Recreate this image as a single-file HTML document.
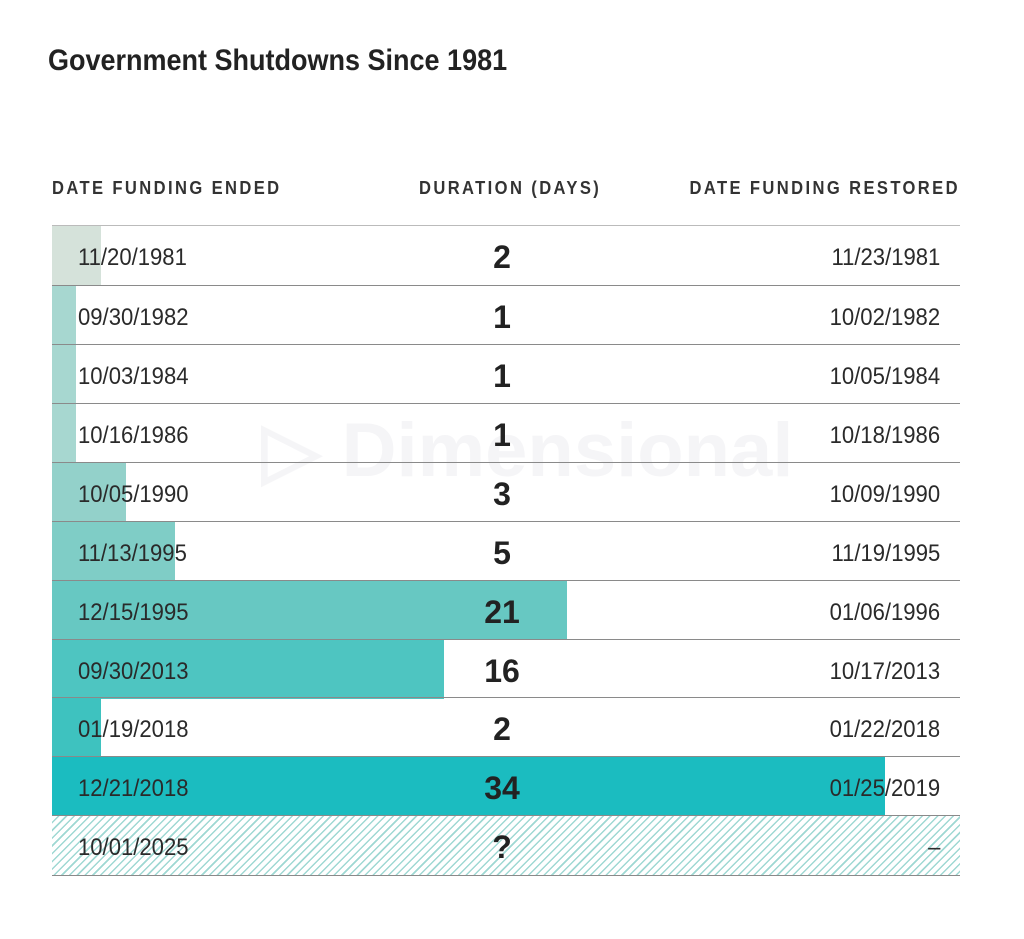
<!DOCTYPE html>
<html><head><meta charset="utf-8"><style>
body{margin:0;background:#fff;width:1024px;height:939px;position:relative;overflow:hidden;font-family:"Liberation Sans",sans-serif;color:#222}
.t{position:absolute;white-space:nowrap}
.title{left:48px;top:44px;font-size:30px;font-weight:bold;transform:scaleX(0.9);transform-origin:left;}
.h{top:178px;font-size:18px;font-weight:bold;letter-spacing:2.6px;color:#333;transform:scaleX(0.92)}
.row{position:absolute;left:52px;width:908px;height:59px;border-top:1px solid #8a8a8a}
.bar{position:absolute;left:0;top:0;height:59px}
.d{position:absolute;left:26px;top:18px;font-size:24px;color:#2a2a2a;transform:scaleX(0.92);transform-origin:left}
.n{position:absolute;left:450px;width:0;top:13px;font-size:32px;font-weight:bold;display:flex;justify-content:center}
.r{position:absolute;right:20px;top:18px;font-size:24px;color:#2a2a2a;transform:scaleX(0.92);transform-origin:right}
</style></head><body>
<div class="t title">Government Shutdowns Since 1981</div>
<div class="t h" style="left:52px;transform-origin:left">DATE FUNDING ENDED</div>
<div class="t h" style="left:419px;transform-origin:left">DURATION (DAYS)</div>
<div class="t h" style="right:64px;transform-origin:right">DATE FUNDING RESTORED</div>
<div class="t" style="left:262px;top:405px;font-size:76px;font-weight:bold;color:#f5f5f7">▷ Dimensional</div>

<div class="row" style="top:225px;border-top-color:#bbb"><div class="bar" style="width:49px;background:#d5e2da"></div><div class="d">11/20/1981</div><div class="n"><span>2</span></div><div class="r">11/23/1981</div></div>
<div class="row" style="top:285px"><div class="bar" style="width:24px;background:#a7d7d0"></div><div class="d">09/30/1982</div><div class="n"><span>1</span></div><div class="r">10/02/1982</div></div>
<div class="row" style="top:344px"><div class="bar" style="width:24px;background:#a7d7d0"></div><div class="d">10/03/1984</div><div class="n"><span>1</span></div><div class="r">10/05/1984</div></div>
<div class="row" style="top:403px"><div class="bar" style="width:24px;background:#a7d7d0"></div><div class="d">10/16/1986</div><div class="n"><span>1</span></div><div class="r">10/18/1986</div></div>
<div class="row" style="top:462px"><div class="bar" style="width:74px;background:#93d1ca"></div><div class="d">10/05/1990</div><div class="n"><span>3</span></div><div class="r">10/09/1990</div></div>
<div class="row" style="top:521px"><div class="bar" style="width:123px;background:#7fcdc6"></div><div class="d">11/13/1995</div><div class="n"><span>5</span></div><div class="r">11/19/1995</div></div>
<div class="row" style="top:580px"><div class="bar" style="width:515px;background:#67c8c2"></div><div class="d">12/15/1995</div><div class="n"><span>21</span></div><div class="r">01/06/1996</div></div>
<div class="row" style="top:639px"><div class="bar" style="width:392px;background:#4ec5c1"></div><div class="d">09/30/2013</div><div class="n"><span>16</span></div><div class="r">10/17/2013</div></div>
<div class="row" style="top:697px"><div class="bar" style="width:49px;background:#3ec2bf"></div><div class="d">01/19/2018</div><div class="n"><span>2</span></div><div class="r">01/22/2018</div></div>
<div class="row" style="top:756px"><div class="bar" style="width:833px;background:#1bbcc0"></div><div class="d">12/21/2018</div><div class="n"><span>34</span></div><div class="r">01/25/2019</div></div>
<div class="row" style="top:815px;border-bottom:1px solid #8a8a8a;background:repeating-linear-gradient(135deg,#fff 0 4px,#9fd8d3 4px 5.5px)"><div class="d">10/01/2025</div><div class="n"><span>?</span></div><div class="r">–</div></div>
</body></html>
